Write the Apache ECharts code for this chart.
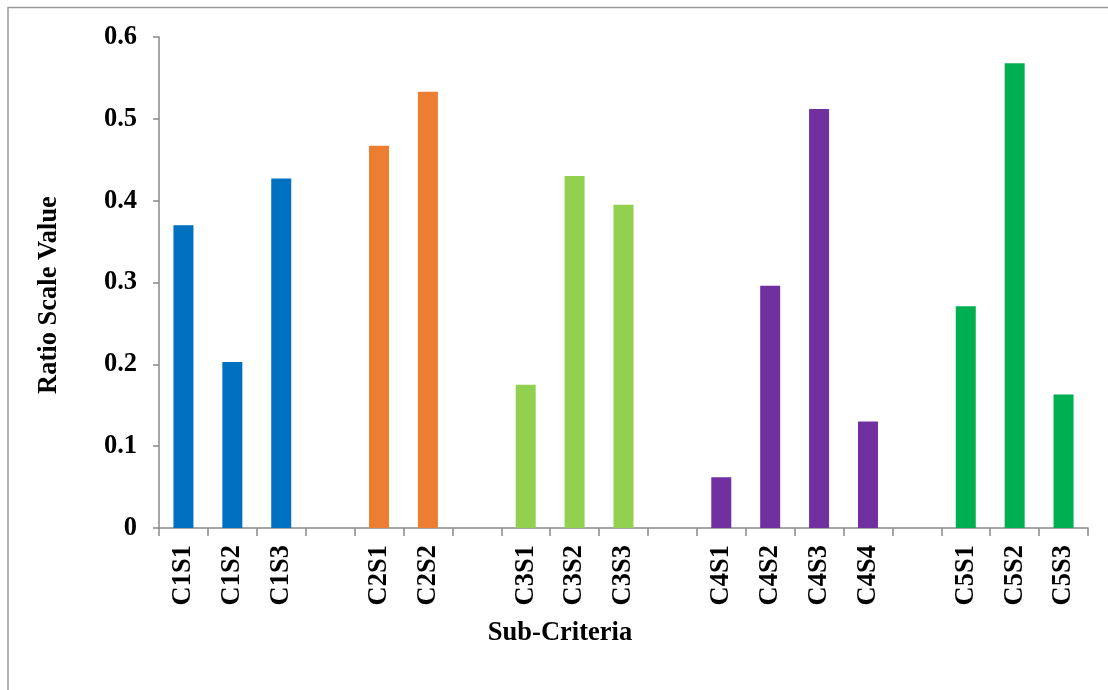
<!DOCTYPE html>
<html>
<head>
<meta charset="utf-8">
<style>
  html, body { margin: 0; padding: 0; background: #ffffff; }
  #chart { width: 1108px; height: 690px; }
</style>
<script src="https://cdn.jsdelivr.net/npm/echarts@6/dist/echarts.min.js"></script>
</head>
<body>
<div id="chart"></div>
<script>
// Sub-criteria, with blank slots separating the five criteria groups
const categories = ['C1S1', 'C1S2', 'C1S3', '', 'C2S1', 'C2S2', '', 'C3S1', 'C3S2', 'C3S3', '',
  'C4S1', 'C4S2', 'C4S3', 'C4S4', '', 'C5S1', 'C5S2', 'C5S3'];
// Ratio scale values (null for the blank separator slots)
const values = [0.370, 0.203, 0.427, null, 0.467, 0.533, null, 0.175, 0.430, 0.395, null,
  0.062, 0.296, 0.512, 0.130, null, 0.271, 0.568, 0.163];
// Criterion group of each slot (index into groupColors)
const groups = [0, 0, 0, -1, 1, 1, -1, 2, 2, 2, -1, 3, 3, 3, 3, -1, 4, 4, 4];
const groupColors = ['#0070C0', '#ED7D31', '#92D050', '#7030A0', '#00B050'];
const yTicks = { min: 0, max: 0.6, step: 0.1 };
const xTitle = 'Sub-Criteria';
const yTitle = 'Ratio Scale Value';

const font = '"Liberation Serif", "Times New Roman", serif';
const axisGrey = '#898989';
const textSize = 26.5;
const titleStyle = {
  fontFamily: font, fontWeight: 'bold', fontSize: textSize, fill: '#000',
  textAlign: 'center', textVerticalAlign: 'middle'
};

const seriesData = values.map((v, i) => v === null ? '-' : {
  value: v,
  itemStyle: { color: groupColors[groups[i]] }
});

const chart = echarts.init(document.getElementById('chart'), null, { renderer: 'canvas' });
chart.setOption({
  animation: false,
  backgroundColor: '#ffffff',
  grid: { left: 159, right: 20, top: 37, bottom: 162, containLabel: false },
  xAxis: {
    type: 'category',
    data: categories,
    axisLine: { lineStyle: { color: axisGrey, width: 1.5 } },
    axisTick: { show: true, length: 8, alignWithLabel: false, lineStyle: { color: axisGrey, width: 1.5 } },
    axisLabel: {
      interval: 0, rotate: 90, margin: 17,
      fontFamily: font, fontWeight: 'bold', fontSize: textSize, color: '#000'
    }
  },
  yAxis: {
    type: 'value',
    min: yTicks.min, max: yTicks.max, interval: yTicks.step,
    axisLine: { show: true, lineStyle: { color: axisGrey, width: 1.5 } },
    axisTick: { show: true, length: 6, lineStyle: { color: axisGrey, width: 1.5 } },
    splitLine: { show: false },
    axisLabel: {
      margin: 22,
      fontFamily: font, fontWeight: 'bold', fontSize: textSize, color: '#000',
      formatter: v => v === 0 ? '0' : v.toFixed(1)
    }
  },
  series: [{
    type: 'bar',
    data: seriesData,
    barWidth: 20
  }],
  graphic: [
    { type: 'polyline', silent: true,
      shape: { points: [[8, 700], [8, 7.5], [1120, 7.5]] },
      style: { stroke: '#9a9a9a', lineWidth: 1.5, fill: null } },
    { type: 'text', silent: true, x: 560, y: 633,
      style: Object.assign({ text: xTitle }, titleStyle) },
    { type: 'text', silent: true, x: 49, y: 295, rotation: Math.PI / 2,
      style: Object.assign({ text: yTitle }, titleStyle) }
  ]
});
</script>
</body>
</html>
